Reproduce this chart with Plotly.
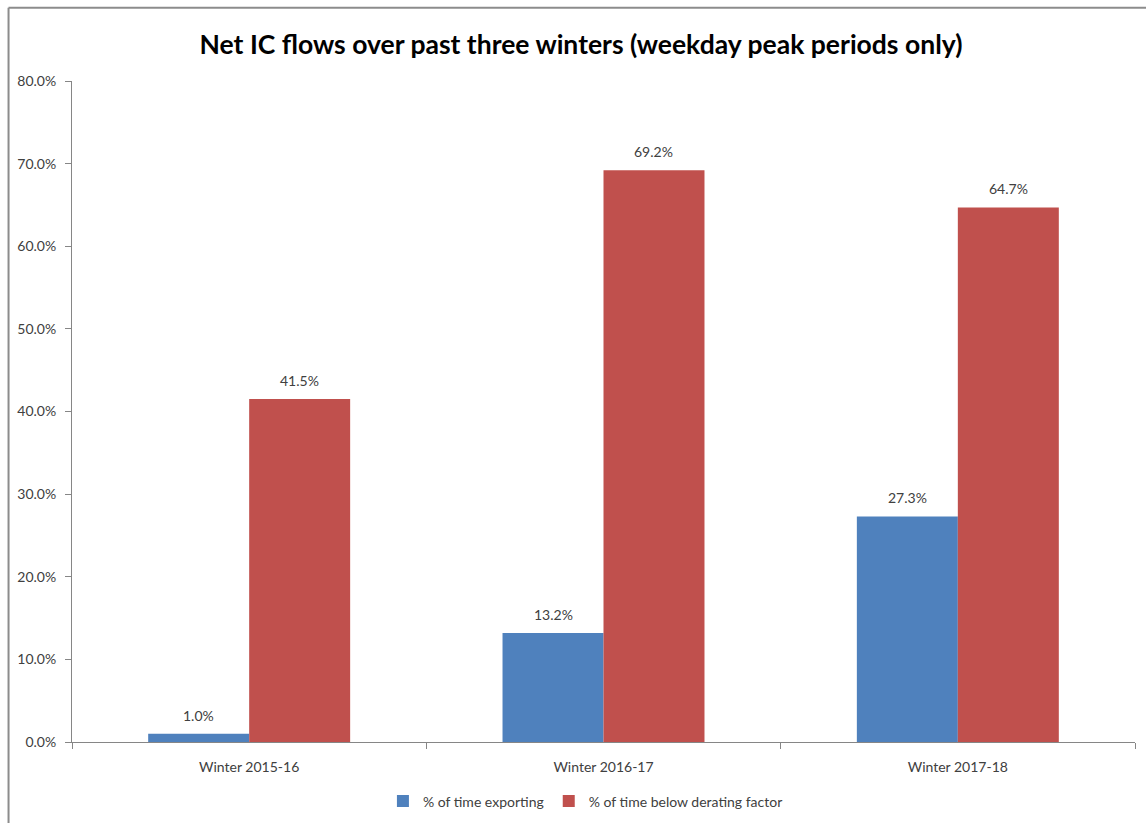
import plotly.graph_objects as go

categories = ["Winter 2015-16", "Winter 2016-17", "Winter 2017-18"]
exporting = [1.0, 13.2, 27.3]
below_derating = [41.5, 69.2, 64.7]
series_names = ["% of time exporting", "% of time below derating factor"]
y_ticks = [0, 10, 20, 30, 40, 50, 60, 70, 80]

FONT = "Lato"
TXT = "#404040"
BARGAP = 0.43
bar_w = (1 - BARGAP) / 2

fig = go.Figure()
annotations = []
for k, (name, vals, col) in enumerate([(series_names[0], exporting, "#4F81BD"),
                                        (series_names[1], below_derating, "#C0504D")]):
    fig.add_trace(go.Bar(
        x=list(range(len(categories))), y=vals, name=name, marker_color=col,
        marker_line_width=0,
    ))
    off = (k - 0.5) * bar_w
    for i, v in enumerate(vals):
        annotations.append(dict(
            x=i + off, y=v, xref="x", yref="y", text=f"{v:.1f}%",
            showarrow=False, yanchor="bottom", yshift=8,
            font=dict(family=FONT, size=14, color=TXT),
        ))

fig.update_layout(
    width=1146, height=823,
    margin=dict(l=72, r=11, t=81, b=81, autoexpand=False),
    paper_bgcolor="white", plot_bgcolor="white",
    barmode="group", bargap=BARGAP, bargroupgap=0,
    title=dict(text="<b>Net IC flows over past three winters (weekday peak periods only)</b>",
               x=0.507, xanchor="center", y=0.946, yanchor="middle",
               font=dict(family=FONT, size=26.5, color="black")),
    font=dict(family=FONT, size=14, color=TXT),
    showlegend=True,
    legend=dict(orientation="h", x=0.483, xanchor="center", y=-0.09, yanchor="middle",
                font=dict(family=FONT, size=14, color=TXT), itemwidth=30,
                traceorder="normal"),
    xaxis=dict(range=[-0.5, 2.5], tickvals=[0, 1, 2], ticktext=categories,
               showline=True, linecolor="#868686", linewidth=1,
               ticks="", showgrid=False, zeroline=False, automargin=False,
               ticklabelstandoff=12,
               tickfont=dict(family=FONT, size=14, color=TXT)),
    xaxis2=dict(overlaying="x", matches="x", range=[-0.5, 2.5], tickvals=[-0.5, 0.5, 1.5, 2.5],
                showticklabels=False, ticks="outside", ticklen=6, tickcolor="#868686",
                showgrid=False, zeroline=False, side="bottom", anchor="y", automargin=False),
    yaxis=dict(range=[0, 80], tickvals=y_ticks,
               ticktext=[f"{v:.1f}%" for v in y_ticks],
               showline=True, linecolor="#868686", linewidth=1,
               ticks="outside", ticklen=6, tickcolor="#868686",
               showgrid=False, zeroline=False, ticklabelstandoff=6, automargin=False,
               tickfont=dict(family=FONT, size=14, color=TXT)),
    annotations=annotations,
    shapes=[
        dict(type="line", xref="paper", yref="paper", x0=-0.0597, x1=1.2, y0=1.111, y1=1.111,
             line=dict(color="#8C8C8C", width=2)),
        dict(type="line", xref="paper", yref="paper", x0=-0.0597, x1=-0.0597, y0=1.111, y1=-0.2,
             line=dict(color="#8C8C8C", width=2)),
    ],
)
# invisible trace to display the boundary ticks on xaxis2
fig.add_trace(go.Scatter(x=[0], y=[0], xaxis="x2", yaxis="y", mode="markers",
                         marker=dict(opacity=0), showlegend=False, hoverinfo="skip"))

fig.write_html("out.html")
